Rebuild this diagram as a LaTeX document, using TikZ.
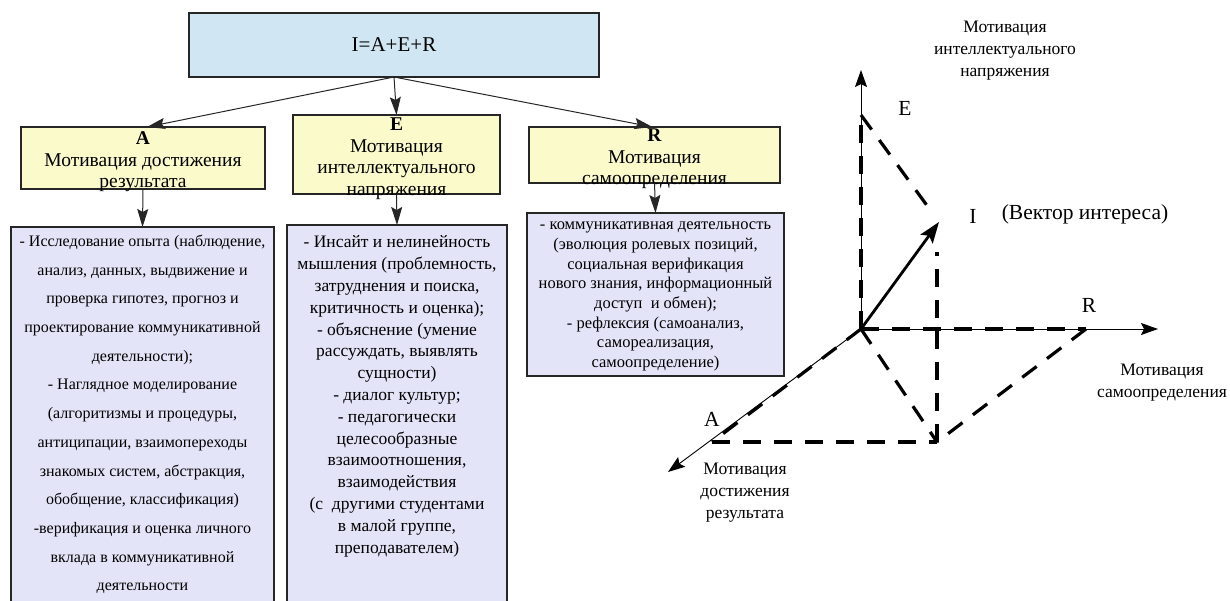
\documentclass[tikz,border=0pt]{standalone}
\usepackage{fontspec}
\setmainfont{Liberation Serif}
\usetikzlibrary{arrows.meta}
\definecolor{topblue}{HTML}{D0E6F2}
\definecolor{motyellow}{HTML}{FBFACB}
\definecolor{listlav}{HTML}{E4E4F8}
\definecolor{edge}{HTML}{262626}
\newcommand\firststrut{\rule{0pt}{21pt}}
\begin{document}
\begin{tikzpicture}[x=1pt,y=-1pt,
  every node/.style={inner sep=0pt, outer sep=0pt},
  frame/.style={draw=edge, line width=1.6pt},
  topbox/.style={frame, fill=topblue, font=\fontsize{21}{24}\selectfont},
  motbox/.style={frame, fill=motyellow, align=center, inner ysep=-8pt, font=\fontsize{19.5}{21.5}\selectfont},
  listbox/.style={frame, fill=listlav, anchor=north},
  listA/.style={align=center, anchor=north, font=\fontsize{16}{28.7}\selectfont},
  listE/.style={align=center, anchor=north, font=\fontsize{17.5}{21.8}\selectfont},
  listR/.style={align=center, anchor=north, font=\fontsize{16.5}{19.7}\selectfont},
  conn/.style={draw=edge, line width=1pt, -{Stealth[length=18pt,width=11pt,inset=3pt]}},
  axisline/.style={line width=0.9pt, -{Stealth[length=17pt,width=12pt,inset=3pt]}},
  proj/.style={line width=3.2pt, dash pattern=on 18pt off 13pt},
  vec/.style={line width=2.8pt, -{Stealth[length=21pt,width=15pt,inset=4pt]}},
  lbl/.style={font=\fontsize{21.5}{24}\selectfont},
  axlbl/.style={align=center, font=\fontsize{17.5}{22}\selectfont}
]
\useasboundingbox (0,0) rectangle (1230,601);

% ---- left: hierarchy ----
\node[topbox, minimum width=410pt, minimum height=64pt] (top) at (394,45) {I=A+E+R};

\node[motbox, minimum width=244pt, minimum height=62pt] (mA) at (143,158)
  {\firststrut\textbf{A}\\Мотивация достижения\\результата};
\node[motbox, minimum width=207pt, minimum height=79pt] (mE) at (396.5,154.5)
  {\firststrut\textbf{E}\\Мотивация\\интеллектуального\\напряжения};
\node[motbox, minimum width=251pt, minimum height=56pt] (mR) at (654.5,155)
  {\firststrut\textbf{R}\\Мотивация\\самоопределения};

\node[listbox, minimum width=263pt, minimum height=390pt] (lA) at (142.5,227) {};
\node[listbox, minimum width=220pt, minimum height=390pt] (lE) at (397,225) {};
\node[listbox, minimum width=257pt, minimum height=163pt] (lR) at (655.5,213) {};

\node[listA] (tA) at ([yshift=-8pt]lA.north)
  {- Исследование опыта (наблюдение,\\
   анализ, данных, выдвижение и\\
   проверка гипотез, прогноз и\\
   проектирование коммуникативной\\
   деятельности);\\
   - Наглядное моделирование\\
   (алгоритизмы и процедуры,\\
   антиципации, взаимопереходы\\
   знакомых систем, абстракция,\\
   обобщение, классификация)\\
   -верификация и оценка личного\\
   вклада в коммуникативной\\
   деятельности};
\node[listE] (tE) at ([yshift=-11pt]lE.north)
  {- Инсайт и нелинейность\\
   мышления (проблемность,\\
   затруднения и поиска,\\
   критичность и оценка);\\
   - объяснение (умение\\
   рассуждать, выявлять\\
   сущности)\\
   - диалог культур;\\
   - педагогически\\
   целесообразные\\
   взаимоотношения,\\
   взаимодействия\\
   (с~ другими студентами\\
   в малой группе,\\
   преподавателем)};
\node[listR] (tR) at ([yshift=-9pt]lR.north)
  {- коммуникативная деятельность\\
   (эволюция ролевых позиций,\\
   социальная верификация\\
   нового знания, информационный\\
   доступ~ и обмен);\\
   - рефлексия (самоанализ,\\
   самореализация,\\
   самоопределение)};

\draw[conn] (top.south) -- ([xshift=4pt]mA.north);
\draw[conn] (top.south) -- (mE.north);
\draw[conn] (top.south) -- ([xshift=-2pt]mR.north);
\draw[conn] (mA.south) -- (lA.north);
\draw[conn] (mE.south) -- (lE.north);
\draw[conn] (mR.south) -- (lR.north);

% ---- right: vector diagram ----
\coordinate (O) at (861,329);
\coordinate (E) at (861,115);
\coordinate (R) at (1086,329);
\coordinate (A) at (712,442);
\coordinate (P) at (937,442);
\coordinate (I) at (939,222);
\coordinate (Etip) at (861,70);
\coordinate (Rtip) at (1158,329);
\coordinate (Atip) at (668,472);

\draw[axisline] (O) -- (Etip);
\draw[axisline] (O) -- (Rtip);
\draw[axisline] (O) -- (Atip);

\draw[proj] (O) -- (E);
\draw[proj] (O) -- (R);
\draw[proj] (O) -- (A);
\draw[proj, shorten >=18pt] (E) -- (I);
\draw[proj] (P) -- ([yshift=-30pt]P |- I);
\draw[proj] (O) -- (P);
\draw[proj] (A) -- (P);
\draw[proj] (R) -- (P);
\draw[vec] (O) -- (I);

\node[lbl] (Elbl) at (905,108) {E};
\node[lbl] (Rlbl) at (1089,305) {R};
\node[lbl] (Ilbl) at (973,216) {I};
\node[lbl] (Vlbl) at (1085,214) {(Вектор интереса)};
\node[lbl] (Albl) at (712,419) {A};

\node[axlbl] (Etitle) at (1005,51) {Мотивация\\интеллектуального\\напряжения};
\node[axlbl] (Rtitle) at (1162,383) {Мотивация\\самоопределения};
\node[axlbl] (Atitle) at (745,493) {Мотивация\\достижения\\результата};
\end{tikzpicture}
\end{document}
